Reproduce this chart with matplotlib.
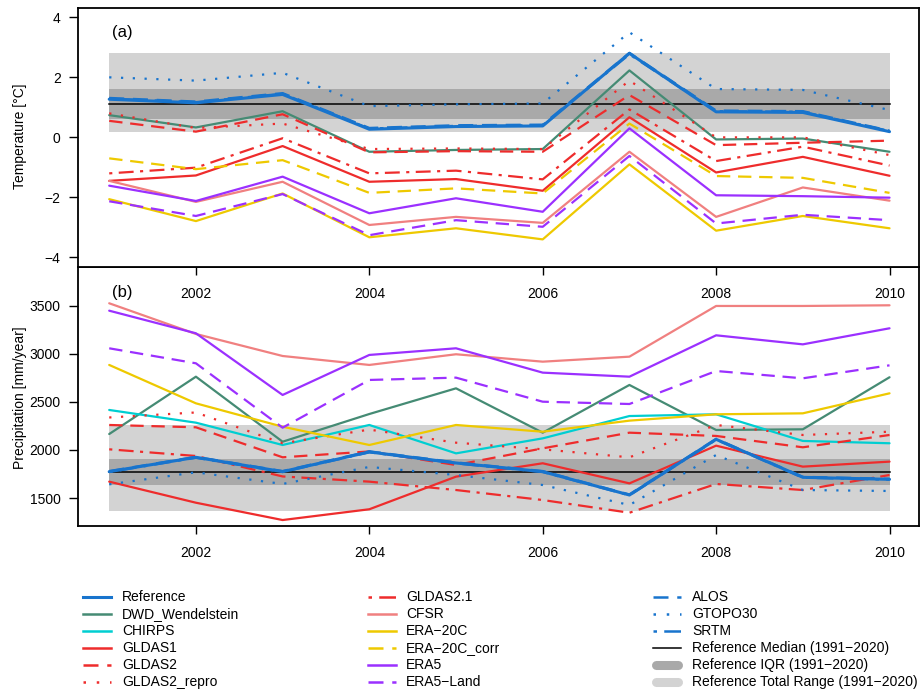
import matplotlib
matplotlib.use("Agg")
import matplotlib.pyplot as plt
from matplotlib.lines import Line2D

plt.rcParams['font.family'] = ['Liberation Sans', 'DejaVu Sans']
plt.rcParams['font.size'] = 10

years = [2001, 2002, 2003, 2004, 2005, 2006, 2007, 2008, 2009, 2010]

# ---- Temperature [°C] (panel a) ----
temp_reference = [1.26, 1.14, 1.42, 0.26, 0.35, 0.37, 2.79, 0.84, 0.82, 0.18]
temp_alos = [1.30, 1.18, 1.46, 0.30, 0.39, 0.41, 2.80, 0.88, 0.86, 0.21]
temp_srtm = [1.28, 1.16, 1.44, 0.28, 0.37, 0.39, 2.76, 0.86, 0.84, 0.20]
temp_gtopo30 = [1.99, 1.88, 2.14, 1.03, 1.09, 1.12, 3.49, 1.60, 1.57, 0.90]
temp_dwd = [0.73, 0.32, 0.86, -0.49, -0.43, -0.40, 2.22, -0.08, -0.05, -0.49]
temp_gldas1 = [-1.46, -1.28, -0.30, -1.49, -1.40, -1.79, 0.66, -1.18, -0.66, -1.29]
temp_gldas2 = [0.54, 0.18, 0.76, -0.51, -0.47, -0.49, 1.40, -0.27, -0.19, -0.12]
temp_gldas2_repro = [0.79, 0.30, 0.45, -0.40, -0.38, -0.40, 1.88, -0.01, -0.01, -0.60]
temp_gldas21 = [-1.21, -1.02, -0.04, -1.21, -1.12, -1.41, 0.92, -0.80, -0.32, -0.95]
temp_cfsr = [-1.46, -2.16, -1.49, -2.93, -2.66, -2.86, -0.49, -2.66, -1.68, -2.12]
temp_era20c = [-2.07, -2.80, -1.88, -3.34, -3.04, -3.41, -0.91, -3.12, -2.63, -3.04]
temp_era20c_corr = [-0.71, -1.07, -0.77, -1.86, -1.71, -1.88, 0.45, -1.30, -1.36, -1.86]
temp_era5 = [-1.62, -2.13, -1.32, -2.54, -2.04, -2.49, 0.29, -1.94, -1.97, -2.02]
temp_era5_land = [-2.14, -2.63, -1.90, -3.27, -2.77, -2.99, -0.63, -2.88, -2.59, -2.77]
temp_ref_range = [0.16, 2.79]
temp_ref_iqr = [0.59, 1.61]
temp_ref_median = 1.10

# ---- Precipitation [mm/year] (panel b) ----
prec_reference = [1775, 1924, 1775, 1980, 1865, 1775, 1532, 2111, 1716, 1695]
prec_alos = [1780, 1928, 1780, 1985, 1870, 1780, 1537, 2115, 1720, 1700]
prec_srtm = [1772, 1920, 1772, 1977, 1862, 1772, 1530, 2108, 1713, 1692]
prec_gtopo30 = [1643, 1768, 1647, 1824, 1740, 1636, 1428, 1948, 1584, 1574]
prec_dwd = [2166, 2762, 2086, 2374, 2641, 2180, 2676, 2208, 2215, 2756]
prec_chirps = [2416, 2284, 2052, 2260, 1965, 2121, 2353, 2371, 2094, 2070]
prec_gldas1 = [1671, 1452, 1272, 1384, 1723, 1862, 1653, 2045, 1827, 1879]
prec_gldas2 = [2260, 2236, 1924, 1985, 1844, 2017, 2180, 2146, 2028, 2156]
prec_gldas2_repro = [2338, 2390, 2070, 2212, 2076, 2007, 1924, 2260, 2156, 2190]
prec_gldas21 = [2007, 1938, 1725, 1671, 1584, 1480, 1348, 1647, 1584, 1740]
prec_cfsr = [3525, 3206, 2977, 2884, 2995, 2918, 2970, 3497, 3497, 3504]
prec_era20c = [2884, 2485, 2242, 2052, 2260, 2190, 2305, 2371, 2381, 2589]
prec_era5 = [3448, 3213, 2572, 2988, 3057, 2804, 2762, 3192, 3098, 3265]
prec_era5_land = [3057, 2901, 2232, 2728, 2752, 2502, 2478, 2821, 2745, 2880]
prec_ref_range = [1371, 2262]
prec_ref_iqr = [1640, 1907]
prec_ref_median = 1769

temp_ticks = [-4, -2, 0, 2, 4]
prec_ticks = [1500, 2000, 2500, 3000, 3500]
year_ticks = [2002, 2004, 2006, 2008, 2010]

# ---- styles ----
C_REF = '#1874CD'
C_DWD = '#458B74'
C_CHIRPS = '#00CED1'
C_GLDAS = '#EE2C2C'
C_CFSR = '#F08080'
C_ERA20 = '#EEC900'
C_ERA5 = '#9B30FF'
C_RANGE = '#D3D3D3'
C_IQR = '#A9A9A9'

SOLID = '-'
DASHED = (0, (6.0, 3.5))
DOTTED = (0, (1.0, 4.3))
DASHDOT = (0, (1.4, 2.9, 6.7, 2.9))

styles = {
    'Reference': (C_REF, SOLID, 2.2),
    'DWD_Wendelstein': (C_DWD, SOLID, 1.6),
    'CHIRPS': (C_CHIRPS, SOLID, 1.6),
    'GLDAS1': (C_GLDAS, SOLID, 1.6),
    'GLDAS2': (C_GLDAS, DASHED, 1.6),
    'GLDAS2_repro': (C_GLDAS, DOTTED, 1.6),
    'GLDAS2.1': (C_GLDAS, DASHDOT, 1.6),
    'CFSR': (C_CFSR, SOLID, 1.6),
    'ERA\u221220C': (C_ERA20, SOLID, 1.6),
    'ERA\u221220C_corr': (C_ERA20, DASHED, 1.6),
    'ERA5': (C_ERA5, SOLID, 1.6),
    'ERA5\u2212Land': (C_ERA5, DASHED, 1.6),
    'ALOS': (C_REF, DASHED, 1.8),
    'GTOPO30': (C_REF, DOTTED, 1.6),
    'SRTM': (C_REF, DASHDOT, 1.8),
}

temp_series = [
    ('DWD_Wendelstein', temp_dwd), ('GLDAS1', temp_gldas1), ('GLDAS2', temp_gldas2),
    ('GLDAS2_repro', temp_gldas2_repro), ('GLDAS2.1', temp_gldas21), ('CFSR', temp_cfsr),
    ('ERA\u221220C', temp_era20c), ('ERA\u221220C_corr', temp_era20c_corr),
    ('ERA5', temp_era5), ('ERA5\u2212Land', temp_era5_land),
    ('GTOPO30', temp_gtopo30), ('ALOS', temp_alos), ('SRTM', temp_srtm),
    ('Reference', temp_reference),
]
prec_series = [
    ('DWD_Wendelstein', prec_dwd), ('CHIRPS', prec_chirps), ('GLDAS1', prec_gldas1),
    ('GLDAS2', prec_gldas2), ('GLDAS2_repro', prec_gldas2_repro), ('GLDAS2.1', prec_gldas21),
    ('CFSR', prec_cfsr), ('ERA\u221220C', prec_era20c), ('ERA5', prec_era5),
    ('ERA5\u2212Land', prec_era5_land),
    ('GTOPO30', prec_gtopo30), ('ALOS', prec_alos), ('SRTM', prec_srtm),
    ('Reference', prec_reference),
]

W, H = 924, 692
fig = plt.figure(figsize=(W / 100, H / 100), dpi=100)
ax1 = fig.add_axes([78 / W, 1 - 267 / H, 841 / W, 259 / H])
ax2 = fig.add_axes([78 / W, 1 - 526 / H, 841 / W, 259 / H])
ax1.set_zorder(3)
ax2.set_zorder(1)


def draw_panel(ax, series, rng, iqr, med):
    ax.fill_between([years[0], years[-1]], rng[0], rng[1], color=C_RANGE, lw=0, zorder=1)
    ax.fill_between([years[0], years[-1]], iqr[0], iqr[1], color=C_IQR, lw=0, zorder=1.1)
    ax.plot([years[0], years[-1]], [med, med], color='black', lw=1.1, zorder=1.2)
    for name, vals in series:
        c, ls, lw = styles[name]
        ax.plot(years, vals, color=c, linestyle=ls, lw=lw, zorder=2,
                solid_capstyle='round', solid_joinstyle='round')
    ax.set_xlim(2000.64, 2010.34)
    ax.set_xticks(year_ticks)
    for s in ax.spines.values():
        s.set_linewidth(1.3)
    ax.tick_params(axis='x', direction='out', length=5.5, width=1.0, pad=9, labelsize=10)
    ax.tick_params(axis='y', direction='out', length=6.5, width=1.0, pad=6, labelsize=10)


draw_panel(ax1, temp_series, temp_ref_range, temp_ref_iqr, temp_ref_median)
draw_panel(ax2, prec_series, prec_ref_range, prec_ref_iqr, prec_ref_median)
ax1.set_ylim(-4.33, 4.30)
ax1.set_yticks(temp_ticks)
ax1.set_yticklabels([str(t).replace('-', '\u2212') for t in temp_ticks])
ax2.set_ylim(1210, 3902)
ax2.set_yticks(prec_ticks)

ax1.text(2001.03, 3.47, '(a)', fontsize=12, ha='left', va='center')
ax2.text(2001.03, 3632, '(b)', fontsize=12, ha='left', va='center')

fig.text(20 / W, 1 - 136 / H, 'Temperature [\u00b0C]', rotation=90, ha='center', va='center', fontsize=10)
fig.text(20 / W, 1 - 398 / H, 'Precipitation [mm/year]', rotation=90, ha='center', va='center', fontsize=10)

# ---- legend (three columns) ----
legend_cols = [
    ['Reference', 'DWD_Wendelstein', 'CHIRPS', 'GLDAS1', 'GLDAS2', 'GLDAS2_repro'],
    ['GLDAS2.1', 'CFSR', 'ERA\u221220C', 'ERA\u221220C_corr', 'ERA5', 'ERA5\u2212Land'],
    ['ALOS', 'GTOPO30', 'SRTM', 'Reference Median (1991\u22122020)',
     'Reference IQR (1991\u22122020)', 'Reference Total Range (1991\u22122020)'],
]
col_line_x = [(83, 111), (368, 396), (653, 681)]
col_text_x = [122, 406, 692]
row_y = [597, 614, 631, 648, 665, 682]
for ci, col in enumerate(legend_cols):
    x0, x1 = col_line_x[ci]
    for ri, name in enumerate(col):
        y = 1 - row_y[ri] / H
        xs = [x0 / W, x1 / W]
        if name in styles:
            c, ls, lw = styles[name]
            ln = Line2D(xs, [y, y], color=c, linestyle=ls, lw=max(lw, 1.8), transform=fig.transFigure)
        elif 'Median' in name:
            ln = Line2D(xs, [y, y], color='black', lw=1.1, transform=fig.transFigure)
        elif 'IQR' in name:
            ln = Line2D([(x0 + 3) / W, (x1 - 3) / W], [y, y], color=C_IQR, lw=6.5,
                        solid_capstyle='round', transform=fig.transFigure)
        else:
            ln = Line2D([(x0 + 3) / W, (x1 - 3) / W], [y, y], color=C_RANGE, lw=6.5,
                        solid_capstyle='round', transform=fig.transFigure)
        fig.add_artist(ln)
        fig.text(col_text_x[ci] / W, y, name, ha='left', va='center', fontsize=10)

fig.savefig('out.png', dpi=100)
